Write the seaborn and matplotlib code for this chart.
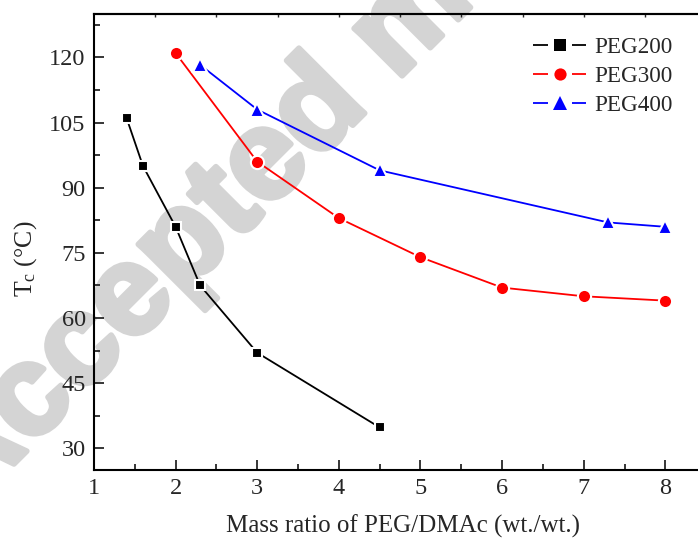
import numpy as np
import pandas as pd
import matplotlib
matplotlib.use("Agg")
import matplotlib.pyplot as plt
import matplotlib.patheffects as pe
from matplotlib.lines import Line2D
from matplotlib.legend_handler import HandlerTuple
import seaborn as sns

# ---- data ----
peg200_x = [1.4, 1.6, 2.0, 2.3, 3.0, 4.5]
peg200_y = [106, 95, 81, 67.5, 52, 34.8]
peg300_x = [2, 3, 4, 5, 6, 7, 8]
peg300_y = [121, 96, 83, 74, 67, 65, 64]
peg400_x = [2.3, 3, 4.5, 7.3, 8]
peg400_y = [118.3, 108, 94, 82, 81]
series_names = ["PEG200", "PEG300", "PEG400"]
series_colors = ["black", "red", "blue"]
series_markers = ["s", "o", "^"]
x_ticks = [1, 2, 3, 4, 5, 6, 7, 8]
y_ticks = [30, 45, 60, 75, 90, 105, 120]

df = pd.concat([
    pd.DataFrame({"x": peg200_x, "y": peg200_y, "series": "PEG200"}),
    pd.DataFrame({"x": peg300_x, "y": peg300_y, "series": "PEG300"}),
    pd.DataFrame({"x": peg400_x, "y": peg400_y, "series": "PEG400"}),
], ignore_index=True)

sns.set_theme(style="ticks")
plt.rcParams["font.family"] = ["Liberation Serif", "DejaVu Serif"]
plt.rcParams["mathtext.fontset"] = "custom"
plt.rcParams["mathtext.rm"] = "Liberation Serif"
plt.rcParams["mathtext.it"] = "Liberation Serif:italic"

fig = plt.figure(figsize=(6.98, 5.42), dpi=100)
ax = fig.add_axes([94/698, 1-470/542, 1-94/698, (470-14)/542])
ax.patch.set_alpha(0)

# watermark (behind everything)
fig.text(-36/698, 1-514/542, "Accepted manuscript", rotation=45, rotation_mode="anchor",
         ha="left", va="baseline", fontsize=92, fontweight="bold",
         family="Liberation Sans", color="#d4d4d4", zorder=-10,
         path_effects=[pe.withStroke(linewidth=4, foreground="#d4d4d4")])

marker_sizes = [7.6, 9.5, 10.5]
sns.lineplot(data=df, x="x", y="y", hue="series", style="series",
             palette=dict(zip(series_names, series_colors)),
             markers=dict(zip(series_names, series_markers)),
             dashes=False, ax=ax, linewidth=1.3, markersize=9,
             markeredgecolor="white", markeredgewidth=1.5, legend=False)
for line, ms in zip(ax.get_lines(), marker_sizes):
    line.set_markersize(ms)

ax.set_xlim(1, 8.4)
ax.set_ylim(25, 130)
ax.set_xticks(x_ticks)
ax.set_yticks(y_ticks)
ax.set_xticks(np.arange(1.5, 8.4, 1.0), minor=True)
ax.set_yticks(np.arange(37.5, 130, 15), minor=True)
ax.tick_params(which="major", direction="in", length=7, width=1.3, labelsize=17.5, pad=6)
ax.tick_params(which="minor", direction="in", length=4, width=1.3)
ax.tick_params(axis="y", which="both", left=True, right=False)
ax.tick_params(axis="x", which="both", top=False)

sec = ax.secondary_xaxis("top")
sec.set_xticks(np.arange(1.75, 8.4, 0.75))
sec.set_xticklabels([])
sec.tick_params(direction="in", length=2.5, width=1.0)
sec.spines["top"].set_linewidth(1.5)

for s in ["left", "bottom", "top"]:
    ax.spines[s].set_linewidth(1.5)
    ax.spines[s].set_color("black")
ax.spines["right"].set_visible(False)

ax.set_xlabel("Mass ratio of PEG/DMAc (wt./wt.)", fontsize=18)
ax.xaxis.set_label_coords(0.5 + 7/604, -0.098)
ax.set_ylabel(r"$\mathregular{T_{c}}$ (°C)", fontsize=18.5)
ax.yaxis.set_label_coords(-(94 - 39) / 604, 0.5 - 17/456)

# legend handles: line segment, marker, line segment (Origin style)
fs = 16.7
handles = []
for c, m, ms in zip(series_colors, series_markers, [8.6, 8.8, 10.0]):
    seg = Line2D([], [], color=c, linewidth=1.3, solid_capstyle="butt")
    mk = Line2D([], [], color=c, marker=m, linestyle="none", markersize=ms,
                markeredgewidth=0)
    handles.append((seg, mk, seg))
ax.legend(handles, series_names, loc="upper right", frameon=False, fontsize=fs,
          handlelength=2.3, handletextpad=0.35, labelspacing=0.33,
          bbox_to_anchor=(0.985, 0.985), borderaxespad=0.3,
          handler_map={tuple: HandlerTuple(ndivide=None, pad=0.2)})

fig.savefig("out.png", dpi=100)
